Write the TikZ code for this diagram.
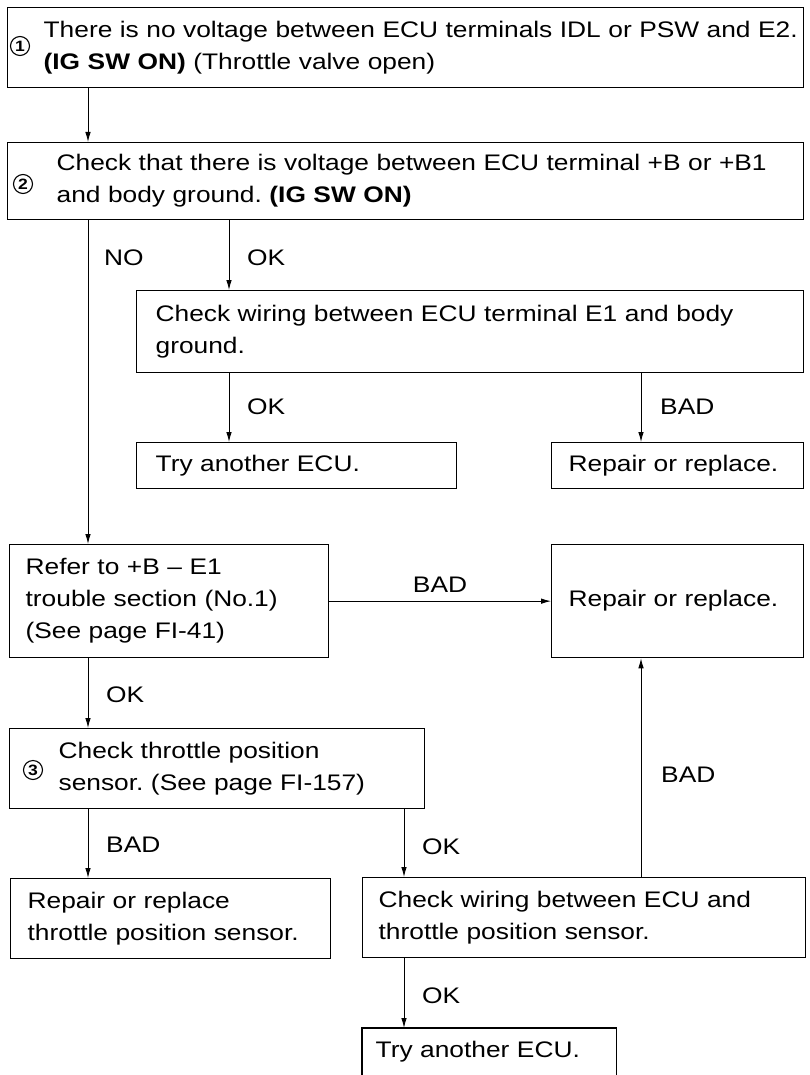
\documentclass[tikz,border=0pt]{standalone}
\usepackage{fontspec}
\setmainfont{Liberation Sans}[FakeStretch=1.17]
\usetikzlibrary{arrows.meta}
\newcommand{\ml}[1]{\mbox{#1}}
\frenchspacing
\begin{document}
\begin{tikzpicture}[x=1pt,y=1pt,
  box/.style={draw, line width=1.3pt, anchor=north west, align=left, inner ysep=0pt, font=\fontsize{22.5}{32}\selectfont},
  lbl/.style={anchor=west, inner sep=0pt, font=\fontsize{22.5}{32}\selectfont},
  arr/.style={line width=0.9pt, -{Latex[length=10pt,width=5.5pt]}},
  cnum/.style={draw, circle, line width=1.1pt, minimum size=19pt, inner sep=0pt, font=\fontsize{15}{15}\selectfont\bfseries}]
\fill[white] (0,0) rectangle (809,-1075);
\useasboundingbox (0,0) rectangle (809,-1075);

% columns
\coordinate (cA) at (88,0);
\coordinate (cB) at (229,0);
\coordinate (cC) at (641,0);
\coordinate (cD) at (404,0);

% boxes
\node[box, inner xsep=36pt, text width=724pt, minimum height=80pt] (b1) at (7,-7)
  {\ml{There is no voltage between ECU terminals IDL or PSW and E2.}\\\ml{\textbf{(IG SW ON)} (Throttle valve open)}};
\node[cnum] (c1) at (20,-46) {1};

\node[box, inner xsep=49pt, text width=698pt, minimum height=77pt] (b2) at (7,-142)
  {\ml{Check that there is voltage between ECU terminal +B or +B1}\\\ml{and body ground. \textbf{(IG SW ON)}}};
\node[cnum] (c2) at (23,-184) {2};

\node[box, inner xsep=19pt, text width=629pt, minimum height=82pt] (e1) at (136,-290)
  {\ml{Check wiring between ECU terminal E1 and body}\\\ml{ground.}};

\node[box, inner xsep=19pt, text width=282pt, minimum height=46pt] (try1) at (136,-442)
  {\ml{Try another ECU.}};
\node[box, inner xsep=17pt, text width=218pt, minimum height=46pt] (rep1) at (551,-442)
  {\ml{Repair or replace.}};

\node[box, inner xsep=16pt, text width=287pt, minimum height=113pt] (refer) at (9,-544)
  {\ml{Refer to +B -- E1}\\\ml{trouble section (No.1)}\\\ml{(See page FI-41)}};
\node[box, inner xsep=17pt, text width=218pt, minimum height=113pt] (rep2) at (551,-544)
  {\ml{Repair or replace.}};

\node[box, inner xsep=49pt, text width=317pt, minimum height=80pt] (b3) at (9,-728)
  {\ml{Check throttle position}\\\ml{sensor. (See page FI-157)}};
\node[cnum] (c3) at (33,-770) {3};

\node[box, inner xsep=17pt, text width=286pt, minimum height=80pt] (reptps) at (10,-878)
  {\ml{Repair or replace}\\\ml{throttle position sensor.}};
\node[box, inner xsep=16pt, text width=411pt, minimum height=80pt] (wire) at (362,-877)
  {\ml{Check wiring between ECU and}\\\ml{throttle position sensor.}};

\node[box, draw=none, inner xsep=13pt, text width=227pt, minimum height=47pt] (try2) at (362,-1028)
  {\ml{Try another ECU.}};
\draw[line width=1.3pt] (try2.south west) -- (try2.north west) -- (try2.north east) -- (try2.south east);

% connectors
\draw[arr] (cA |- b1.south) -- (cA |- b2.north);
\draw[arr] (cA |- b2.south) -- (cA |- refer.north);
\draw[arr] (cB |- b2.south) -- (cB |- e1.north);
\draw[arr] (cB |- e1.south) -- (cB |- try1.north);
\draw[arr] (cC |- e1.south) -- (cC |- rep1.north);
\draw[arr] (refer.east) -- (rep2.west);
\draw[arr] (cA |- refer.south) -- (cA |- b3.north);
\draw[arr] (cA |- b3.south) -- (cA |- reptps.north);
\draw[arr] (cD |- b3.south) -- (cD |- wire.north);
\draw[arr] (cC |- wire.north) -- (cC |- rep2.south);
\draw[arr] (cD |- wire.south) -- (cD |- try2.north);

% labels
\node[lbl] (lno) at (104,-258) {NO};
\node[lbl] (lok1) at (247,-258) {OK};
\node[lbl] (lok2) at (247,-407) {OK};
\node[lbl] (lbad1) at (660,-407) {BAD};
\node[lbl, anchor=center] (lbad2) at (440,-585) {BAD};
\node[lbl] (lok3) at (106,-695) {OK};
\node[lbl] (lbad3) at (106,-845) {BAD};
\node[lbl] (lok4) at (422,-847) {OK};
\node[lbl] (lbad4) at (661,-775) {BAD};
\node[lbl] (lok5) at (422,-996) {OK};
\end{tikzpicture}
\end{document}
